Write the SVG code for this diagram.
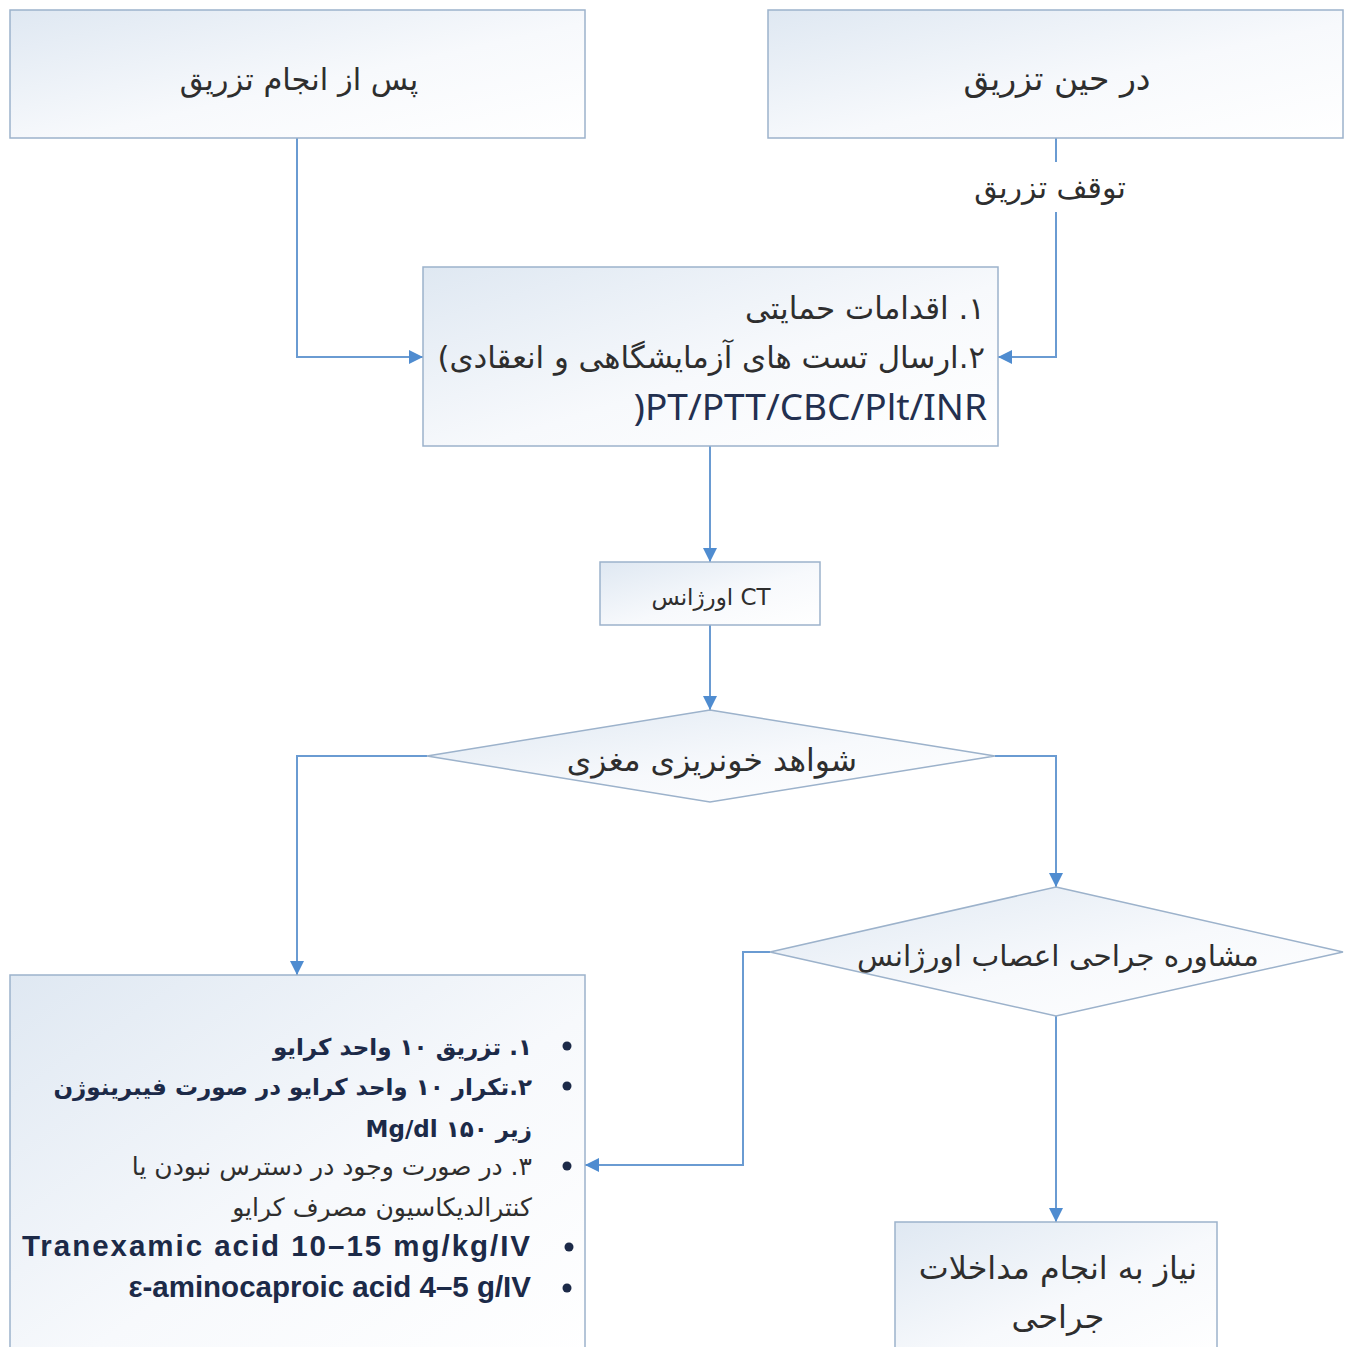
<svg xmlns="http://www.w3.org/2000/svg" width="1348" height="1347" viewBox="0 0 1348 1347">
<defs>
<linearGradient id="fill" x1="0" y1="0" x2="1" y2="1">
<stop offset="0" stop-color="#dfe8f2"/>
<stop offset="0.55" stop-color="#f7f9fc"/>
<stop offset="1" stop-color="#ffffff"/>
</linearGradient>
<marker id="arr" markerUnits="userSpaceOnUse" markerWidth="16" markerHeight="14" refX="14" refY="7" orient="auto">
<path d="M0,0 L14,7 L0,14 z" fill="#4f8cd0"/>
</marker>
<style>
.box{fill:url(#fill);stroke:#9cb2cb;stroke-width:1.5}
.con{fill:none;stroke:#6a9bd2;stroke-width:2;marker-end:url(#arr)}
.line{fill:none;stroke:#6a9bd2;stroke-width:2}
.fa{font-family:"DejaVu Sans",sans-serif;font-size:30px;fill:#2e2e2e;direction:rtl}
.fab{font-family:"DejaVu Sans",sans-serif;font-size:23px;font-weight:bold;fill:#1c2a48;direction:rtl}
.lat{font-family:"Noto Sans","Open Sans",sans-serif;font-size:37px;fill:#233050}
.latb{font-family:"Liberation Sans",Arial,sans-serif;font-size:29.5px;font-weight:bold;fill:#1c2a48}
.bul{fill:#1c2a48}
</style>
</defs>
<rect width="1348" height="1347" fill="#ffffff"/>
<g id="connectors">
<path class="con" d="M297,138 V357 H423"/>
<path class="line" d="M1056,138 V162"/>
<path class="con" d="M1056,212 V357 H998"/>
<path class="con" d="M710,446 V562"/>
<path class="con" d="M710,625 V710"/>
<path class="con" d="M427,756 H297 V975"/>
<path class="con" d="M995,756 H1056 V887"/>
<path class="con" d="M770,952 H743 V1165 H585"/>
<path class="con" d="M1056,1016 V1222"/>
<text class="fa" x="1050" y="198" text-anchor="middle">توقف تزریق</text>
</g>
<g id="node-after">
<rect class="box" x="10" y="10" width="575" height="128"/>
<text class="fa" x="299" y="90" text-anchor="middle" style="font-size:30.5px">پس از انجام تزریق</text>
</g>
<g id="node-during">
<rect class="box" x="768" y="10" width="575" height="128"/>
<text class="fa" x="1057" y="90" text-anchor="middle" style="font-size:33px">در حین تزریق</text>
</g>
<g id="node-support">
<rect class="box" x="423" y="267" width="575" height="179"/>
<text class="fa" x="985" y="319" text-anchor="start" style="font-size:31px">۱. اقدامات حمایتی</text>
<text class="fa" x="985" y="368" text-anchor="start" style="font-size:30.8px">۲.ارسال تست های آزمایشگاهی و انعقادی)</text>
<text class="lat" x="987" y="420" text-anchor="end">)PT/PTT/CBC/Plt/INR</text>
</g>
<g id="node-ct">
<rect class="box" x="600" y="562" width="220" height="63"/>
<text class="fa" x="711" y="605" text-anchor="middle" style="font-size:23px">CT اورژانس</text>
</g>
<g id="node-bleed">
<polygon class="box" points="710,710 995,756 710,802 427,756"/>
<text class="fa" x="712" y="771" text-anchor="middle" style="font-size:31.4px">شواهد خونریزی مغزی</text>
</g>
<g id="node-consult">
<polygon class="box" points="1056,887 1343,952 1056,1016 770,952"/>
<text class="fa" x="1058" y="966" text-anchor="middle" style="font-size:29.5px">مشاوره جراحی اعصاب اورژانس</text>
</g>
<g id="node-treatment">
<rect class="box" x="10" y="975" width="575" height="390"/>
<circle class="bul" cx="567" cy="1046" r="4.5"/>
<circle class="bul" cx="567" cy="1086" r="4.5"/>
<circle class="bul" cx="567" cy="1166" r="4.5"/>
<circle class="bul" cx="569" cy="1247" r="4.5"/>
<circle class="bul" cx="567" cy="1288" r="4.5"/>
<text class="fab" x="532" y="1055" text-anchor="start">۱. تزریق ۱۰ واحد کرایو</text>
<text class="fab" x="532" y="1095" text-anchor="start">۲.تکرار ۱۰ واحد کرایو در صورت فیبرینوژن</text>
<text class="fab" x="532" y="1137" text-anchor="start">زیر ۱۵۰ Mg/dl</text>
<text class="fa" x="532" y="1175" text-anchor="start" style="font-size:25px">۳. در صورت وجود در دسترس نبودن یا</text>
<text class="fa" x="532" y="1216" text-anchor="start" style="font-size:25px">کنترالدیکاسیون مصرف کرایو</text>
<text class="latb" x="22" y="1256" textLength="508" lengthAdjust="spacing">Tranexamic acid 10–15 mg/kg/IV</text>
<text class="latb" x="531" y="1297" text-anchor="end">ε-aminocaproic acid 4–5 g/IV</text>
</g>
<g id="node-surgery">
<rect class="box" x="895" y="1222" width="322" height="140"/>
<text class="fa" x="1058" y="1279" text-anchor="middle" style="font-size:31.8px">نیاز به انجام مداخلات</text>
<text class="fa" x="1058" y="1328" text-anchor="middle" style="font-size:32px">جراحی</text>
</g>
</svg>
